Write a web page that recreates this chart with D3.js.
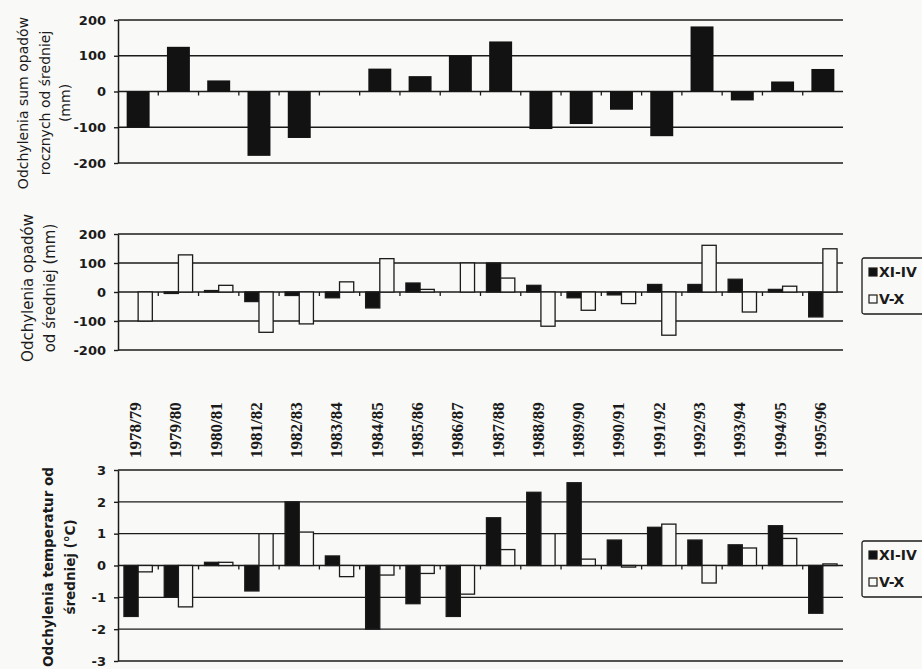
<!DOCTYPE html>
<html>
<head>
<meta charset="utf-8">
<script src="https://cdn.jsdelivr.net/npm/d3@7"></script>
<style>
  body { margin: 0; background: #f9f9f7; }
  svg { display: block; }
</style>
</head>
<body>
<div class="canvas"></div>
<script>
// data
const years = ['1978/79', '1979/80', '1980/81', '1981/82', '1982/83', '1983/84', '1984/85', '1985/86', '1986/87',
  '1987/88', '1988/89', '1989/90', '1990/91', '1991/92', '1992/93', '1993/94', '1994/95', '1995/96'];

// annual precipitation deviation (mm)
const annualDev = [-100, 125, 31, -180, -130, 0, 64, 43, 100, 140, -105, -91, -51, -125, 182, -25, 28, 63];

// half-year precipitation deviation (mm)
const precipWinter = [0, -5, 5, -33, -12, -20, -55, 31, 0, 100, 23, -20, -10, 26, 26, 44, 9, -86];
const precipSummer = [-100, 128, 23, -139, -110, 35, 115, 9, 100, 48, -118, -63, -40, -149, 161, -69, 20, 149];

// half-year temperature deviation (°C)
const tempWinter = [-1.6, -1.0, 0.1, -0.8, 2.0, 0.3, -2.0, -1.2, -1.6, 1.5, 2.3, 2.6, 0.8, 1.2, 0.8, 0.65, 1.25, -1.5];
const tempSummer = [-0.2, -1.3, 0.1, 1.0, 1.05, -0.35, -0.3, -0.25, -0.9, 0.5, 1.0, 0.2, -0.05, 1.3, -0.55, 0.55, 0.85, 0.05];

const seriesNames = ['XI-IV', 'V-X'];
const mmTicks = [-200, -100, 0, 100, 200];
const degTicks = [-3, -2, -1, 0, 1, 2, 3];

const dims = { width: 922, height: 669 };
const ink = '#1b1b1b';
const paper = '#f9f9f7';

const svg = d3.select('.canvas')
  .append('svg')
    .attr('width', dims.width)
    .attr('height', dims.height);

// shared x scales
const x = d3.scaleBand()
  .domain(years)
  .range([118, 843]);

const xSingle = d3.scaleBand()
  .domain(years)
  .range([118, 843])
  .paddingInner(0.43)
  .paddingOuter(0.215);

const xPair = d3.scaleBand()
  .domain(seriesNames)
  .range([0, x.bandwidth()])
  .paddingOuter(0.42);

// y scales, one per panel
const y1 = d3.scaleLinear().domain([-200, 200]).range([163, 20]);
const y2 = d3.scaleLinear().domain([-200, 200]).range([350, 234]);
const y3 = d3.scaleLinear().domain([-3, 3]).range([661, 470]);

// gridlines for a panel
const drawFrame = (y, ticks) => {
  const g = svg.append('g');

  g.selectAll('line.grid')
    .data(ticks)
    .enter().append('line')
      .attr('class', 'grid')
      .attr('x1', x.range()[0])
      .attr('x2', x.range()[1])
      .attr('y1', d => y(d))
      .attr('y2', d => y(d))
      .attr('stroke', ink)
      .attr('stroke-width', 1.4);

  return g;
};

// y axis and category ticks on the zero line
const drawAxes = (g, y, ticks) => {
  const axis = g.append('g')
    .attr('transform', `translate(${x.range()[0]}, 0)`)
    .call(d3.axisLeft(y)
      .tickValues(ticks)
      .tickSize(4)
      .tickSizeOuter(0)
      .tickPadding(8)
      .tickFormat(d => String(d)));

  axis.select('.domain').attr('stroke', ink).attr('stroke-width', 1.5);
  axis.selectAll('.tick line').attr('stroke', ink).attr('stroke-width', 1.4);
  axis.selectAll('.tick text')
    .attr('fill', ink)
    .attr('font-family', 'DejaVu Sans')
    .attr('font-weight', 'bold')
    .attr('font-size', 13);

  g.selectAll('line.cat')
    .data(years.slice(1))
    .enter().append('line')
      .attr('class', 'cat')
      .attr('x1', d => x(d))
      .attr('x2', d => x(d))
      .attr('y1', y(0))
      .attr('y2', y(0) + 4)
      .attr('stroke', ink)
      .attr('stroke-width', 1.3);
};

const barY = (y, v) => y(Math.max(0, v));
const barH = (y, v) => Math.abs(y(v) - y(0));

// panel 1 - annual sums
const g1 = drawFrame(y1, mmTicks);
g1.selectAll('rect')
  .data(annualDev)
  .enter().append('rect')
    .attr('x', (d, i) => xSingle(years[i]))
    .attr('width', xSingle.bandwidth())
    .attr('y', d => barY(y1, d))
    .attr('height', d => barH(y1, d))
    .attr('fill', '#121212');
drawAxes(g1, y1, mmTicks);

// clustered panels
const drawPairs = (g, y, winter, summer) => {
  const rows = years.map((yr, i) => [
    { yr, key: 'XI-IV', v: winter[i] },
    { yr, key: 'V-X', v: summer[i] }
  ]).flat();

  g.selectAll('rect.bar')
    .data(rows)
    .enter().append('rect')
      .attr('class', 'bar')
      .attr('x', d => x(d.yr) + xPair(d.key))
      .attr('width', xPair.bandwidth())
      .attr('y', d => barY(y, d.v))
      .attr('height', d => barH(y, d.v))
      .attr('fill', d => d.key === 'XI-IV' ? '#121212' : paper)
      .attr('stroke', ink)
      .attr('stroke-width', 1.3);
};

const g2 = drawFrame(y2, mmTicks);
drawPairs(g2, y2, precipWinter, precipSummer);
drawAxes(g2, y2, mmTicks);

const g3 = drawFrame(y3, degTicks);
drawPairs(g3, y3, tempWinter, tempSummer);
drawAxes(g3, y3, degTicks);

// category labels between panel 2 and 3
svg.append('g')
  .selectAll('text')
  .data(years)
  .enter().append('text')
    .attr('transform', d => `translate(${x(d) + x.bandwidth() / 2 - 3}, 458) rotate(-90)`)
    .attr('dy', '0.35em')
    .attr('font-family', 'Liberation Serif')
    .attr('font-weight', 'bold')
    .attr('font-size', 17)
    .attr('fill', ink)
    .text(d => d);

// rotated axis titles
const drawTitle = (lines, xs, cy, weight, size) => {
  svg.append('g')
    .selectAll('text')
    .data(lines)
    .enter().append('text')
      .attr('transform', (d, i) => `translate(${xs[i]}, ${cy}) rotate(-90)`)
      .attr('text-anchor', 'middle')
      .attr('dy', '0.35em')
      .attr('font-family', 'DejaVu Sans')
      .attr('font-weight', weight)
      .attr('font-size', size)
      .attr('fill', ink)
      .text(d => d);
};

drawTitle(['Odchylenia sum opadów', 'rocznych od średniej', '(mm)'], [23, 45, 65], 103, 'normal', 14);
drawTitle(['Odchylenia opadów', 'od średniej (mm)'], [28, 50], 288, 'normal', 15);
drawTitle(['Odchylenia temperatur od', 'średniej (°C)'], [48, 70], 567, 'bold', 13.5);

// legends
const drawLegend = (top) => {
  const g = svg.append('g')
    .attr('transform', `translate(862, ${top})`);

  g.append('rect')
    .attr('width', 80)
    .attr('height', 56)
    .attr('rx', 2)
    .attr('fill', 'none')
    .attr('stroke', ink)
    .attr('stroke-width', 1.3);

  const item = g.selectAll('g.item')
    .data(seriesNames)
    .enter().append('g')
      .attr('class', 'item')
      .attr('transform', (d, i) => `translate(7, ${10 + i * 27})`);

  item.append('rect')
    .attr('width', 8)
    .attr('height', 8)
    .attr('fill', d => d === 'XI-IV' ? '#121212' : paper)
    .attr('stroke', ink)
    .attr('stroke-width', 1.2);

  item.append('text')
    .attr('x', 10)
    .attr('y', 9)
    .attr('font-family', 'DejaVu Sans')
    .attr('font-weight', 'bold')
    .attr('font-size', 14)
    .attr('fill', ink)
    .text(d => d);
};

drawLegend(258);
drawLegend(541);
</script>
</body>
</html>
